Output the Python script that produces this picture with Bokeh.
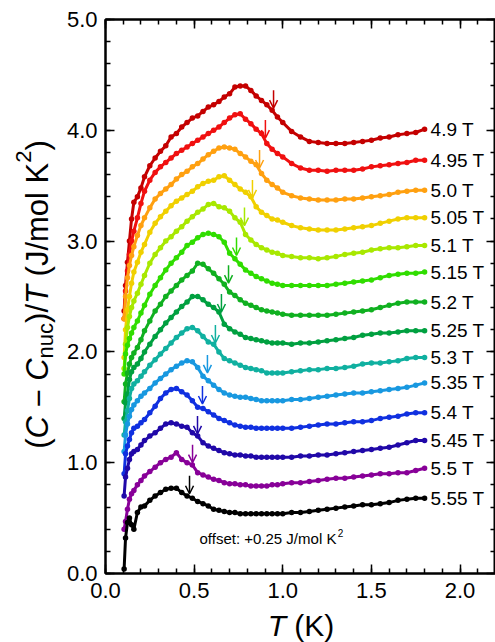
import math
from bokeh.plotting import figure
from bokeh.layouts import row, column
from bokeh.models import (ColumnDataSource, Label, LinearAxis, Range1d,
                          SingleIntervalTicker, PrintfTickFormatter,
                          CustomJSTickFormatter, Arrow, OpenHead)
from bokeh.core.properties import value
from bokeh.embed import file_html
from bokeh.resources import INLINE

# ---------------- data ----------------
T = [0.105, 0.113, 0.124, 0.135, 0.147, 0.16, 0.18, 0.20, 0.22, 0.25,
     0.28, 0.31, 0.34, 0.37, 0.40, 0.43, 0.46, 0.49, 0.52, 0.55,
     0.58, 0.61, 0.64, 0.67, 0.70, 0.73, 0.76, 0.79, 0.82, 0.85,
     0.88, 0.91, 0.94, 0.97, 1.00, 1.05, 1.10, 1.15, 1.20, 1.25,
     1.30, 1.35, 1.40, 1.45, 1.50, 1.55, 1.60, 1.65, 1.70, 1.75,
     1.80]

FIELDS = ["4.9 T", "4.95 T", "5.0 T", "5.05 T", "5.1 T", "5.15 T", "5.2 T",
          "5.25 T", "5.3 T", "5.35 T", "5.4 T", "5.45 T", "5.5 T", "5.55 T"]

C_4p90 = [-0.88, -0.65, -0.44, -0.25, -0.05, 0.10, 0.15, 0.23, 0.33, 0.43,
          0.50, 0.56, 0.61, 0.69, 0.72, 0.78, 0.82, 0.86, 0.88, 0.92,
          0.96, 0.98, 1.01, 1.05, 1.08, 1.14, 1.15, 1.15, 1.11, 1.06,
          1.02, 0.98, 0.93, 0.87, 0.82, 0.74, 0.69, 0.65, 0.64, 0.63,
          0.63, 0.63, 0.64, 0.65, 0.66, 0.68, 0.69, 0.71, 0.72, 0.73,
          0.76]
C_4p95 = [-0.70, -0.45, -0.27, -0.12, 0.00, 0.09, 0.21, 0.34, 0.45, 0.55,
          0.62, 0.67, 0.71, 0.75, 0.79, 0.82, 0.85, 0.88, 0.91, 0.94,
          0.97, 1.00, 1.03, 1.07, 1.11, 1.14, 1.15, 1.10, 1.06, 1.01,
          0.97, 0.88, 0.83, 0.79, 0.76, 0.70, 0.66, 0.64, 0.64, 0.63,
          0.64, 0.64, 0.64, 0.65, 0.67, 0.68, 0.69, 0.70, 0.71, 0.73,
          0.73]
C_5p00 = [-0.45, -0.25, -0.08, 0.03, 0.12, 0.20, 0.30, 0.39, 0.46, 0.55,
          0.63, 0.68, 0.72, 0.76, 0.81, 0.85, 0.88, 0.92, 0.95, 0.99,
          1.03, 1.06, 1.09, 1.10, 1.09, 1.08, 1.04, 1.01, 0.97, 0.94,
          0.86, 0.80, 0.76, 0.73, 0.69, 0.66, 0.64, 0.63, 0.62, 0.62,
          0.62, 0.63, 0.63, 0.64, 0.65, 0.66, 0.67, 0.69, 0.70, 0.71,
          0.71]
C_5p05 = [-0.55, -0.30, -0.12, 0.00, 0.12, 0.22, 0.31, 0.40, 0.47, 0.58,
          0.66, 0.72, 0.77, 0.82, 0.86, 0.89, 0.92, 0.95, 0.99, 1.02,
          1.04, 1.05, 1.08, 1.09, 1.05, 1.01, 0.97, 0.94, 0.90, 0.81,
          0.76, 0.73, 0.70, 0.69, 0.67, 0.64, 0.62, 0.61, 0.60, 0.60,
          0.60, 0.61, 0.62, 0.63, 0.64, 0.66, 0.68, 0.70, 0.71, 0.71,
          0.71]
C_5p10 = [-0.40, -0.18, -0.03, 0.07, 0.15, 0.21, 0.28, 0.36, 0.44, 0.55,
          0.63, 0.69, 0.75, 0.79, 0.84, 0.88, 0.93, 0.97, 1.01, 1.04,
          1.08, 1.09, 1.06, 1.05, 1.02, 0.96, 0.92, 0.81, 0.76, 0.72,
          0.69, 0.67, 0.65, 0.64, 0.62, 0.61, 0.60, 0.60, 0.59, 0.60,
          0.61, 0.63, 0.64, 0.65, 0.67, 0.68, 0.69, 0.69, 0.70, 0.71,
          0.71]
C_5p15 = [-0.20, -0.02, 0.06, 0.12, 0.17, 0.22, 0.28, 0.35, 0.42, 0.52,
          0.60, 0.67, 0.74, 0.80, 0.85, 0.90, 0.96, 0.99, 1.03, 1.06,
          1.07, 1.06, 1.04, 0.99, 0.89, 0.84, 0.79, 0.74, 0.71, 0.68,
          0.66, 0.64, 0.62, 0.61, 0.60, 0.60, 0.60, 0.60, 0.60, 0.60,
          0.61, 0.62, 0.63, 0.64, 0.65, 0.67, 0.69, 0.70, 0.71, 0.71,
          0.72]
C_5p20 = [-0.20, -0.04, 0.06, 0.14, 0.20, 0.24, 0.29, 0.36, 0.44, 0.53,
          0.62, 0.68, 0.75, 0.80, 0.85, 0.90, 0.94, 0.98, 1.05, 1.04,
          1.00, 0.96, 0.91, 0.86, 0.79, 0.76, 0.72, 0.69, 0.67, 0.65,
          0.63, 0.62, 0.61, 0.60, 0.59, 0.58, 0.58, 0.58, 0.58, 0.58,
          0.59, 0.60, 0.61, 0.62, 0.63, 0.65, 0.67, 0.69, 0.70, 0.70,
          0.70]
C_5p25 = [-0.10, 0.04, 0.12, 0.25, 0.32, 0.36, 0.39, 0.44, 0.50, 0.57,
          0.64, 0.70, 0.76, 0.81, 0.86, 0.91, 0.95, 1.00, 1.00, 0.97,
          0.93, 0.90, 0.86, 0.75, 0.71, 0.68, 0.66, 0.63, 0.62, 0.61,
          0.60, 0.59, 0.58, 0.58, 0.58, 0.57, 0.58, 0.58, 0.59, 0.60,
          0.61, 0.62, 0.63, 0.65, 0.66, 0.67, 0.67, 0.68, 0.69, 0.69,
          0.69]
C_5p30 = [0.00, 0.12, 0.22, 0.33, 0.42, 0.46, 0.49, 0.53, 0.57, 0.63,
          0.68, 0.73, 0.78, 0.83, 0.88, 0.92, 0.96, 0.97, 0.94, 0.89,
          0.84, 0.82, 0.75, 0.69, 0.67, 0.65, 0.63, 0.61, 0.60, 0.59,
          0.58, 0.56, 0.56, 0.56, 0.56, 0.57, 0.58, 0.59, 0.59, 0.60,
          0.60, 0.61, 0.62, 0.64, 0.65, 0.65, 0.66, 0.67, 0.69, 0.70,
          0.70]
C_5p35 = [0.10, 0.25, 0.35, 0.42, 0.48, 0.52, 0.56, 0.60, 0.63, 0.67,
          0.72, 0.76, 0.80, 0.84, 0.87, 0.90, 0.92, 0.91, 0.86, 0.78,
          0.74, 0.70, 0.66, 0.63, 0.61, 0.60, 0.59, 0.59, 0.58, 0.57,
          0.56, 0.56, 0.56, 0.56, 0.56, 0.57, 0.57, 0.58, 0.59, 0.60,
          0.61, 0.62, 0.63, 0.63, 0.64, 0.65, 0.66, 0.67, 0.68, 0.70,
          0.72]
C_5p40 = [0.15, 0.33, 0.40, 0.46, 0.52, 0.56, 0.58, 0.61, 0.64, 0.70,
          0.76, 0.83, 0.88, 0.91, 0.92, 0.89, 0.86, 0.81, 0.75, 0.74,
          0.71, 0.68, 0.65, 0.63, 0.61, 0.59, 0.58, 0.57, 0.57, 0.56,
          0.56, 0.56, 0.56, 0.56, 0.56, 0.56, 0.57, 0.58, 0.59, 0.60,
          0.60, 0.61, 0.62, 0.62, 0.63, 0.65, 0.66, 0.67, 0.69, 0.70,
          0.70]
C_5p45 = [0.20, 0.37, 0.45, 0.53, 0.58, 0.60, 0.62, 0.66, 0.70, 0.74,
          0.77, 0.81, 0.85, 0.86, 0.85, 0.83, 0.82, 0.77, 0.74, 0.68,
          0.65, 0.63, 0.61, 0.59, 0.58, 0.57, 0.57, 0.56, 0.56, 0.55,
          0.55, 0.55, 0.55, 0.55, 0.55, 0.55, 0.56, 0.56, 0.57, 0.57,
          0.58, 0.59, 0.60, 0.61, 0.62, 0.63, 0.64, 0.66, 0.68, 0.70,
          0.70]
C_5p50 = [0.15, 0.22, 0.33, 0.42, 0.47, 0.50, 0.55, 0.59, 0.63, 0.67,
          0.71, 0.75, 0.78, 0.80, 0.84, 0.78, 0.75, 0.73, 0.66, 0.64,
          0.62, 0.60, 0.59, 0.57, 0.56, 0.56, 0.55, 0.55, 0.54, 0.54,
          0.54, 0.54, 0.55, 0.55, 0.56, 0.57, 0.57, 0.58, 0.59, 0.60,
          0.61, 0.61, 0.62, 0.63, 0.64, 0.65, 0.65, 0.66, 0.66, 0.68,
          0.70]
C_5p55 = [0.04, 0.32, 0.46, 0.50, 0.44, 0.40, 0.55, 0.60, 0.61, 0.66,
          0.70, 0.73, 0.76, 0.77, 0.77, 0.73, 0.70, 0.68, 0.65, 0.63,
          0.61, 0.58, 0.57, 0.56, 0.55, 0.55, 0.54, 0.54, 0.54, 0.54,
          0.54, 0.54, 0.54, 0.54, 0.54, 0.55, 0.55, 0.56, 0.57, 0.58,
          0.59, 0.60, 0.61, 0.62, 0.62, 0.63, 0.64, 0.66, 0.67, 0.68,
          0.68]

CURVES = [C_4p90, C_4p95, C_5p00, C_5p05, C_5p10, C_5p15, C_5p20,
          C_5p25, C_5p30, C_5p35, C_5p40, C_5p45, C_5p50, C_5p55]

# transition markers (arrows): temperature and value of the tip (no offset)
ARROW_T = [0.948, 0.902, 0.869, 0.829, 0.784, 0.739, 0.694,
           0.654, 0.620, 0.575, 0.547, 0.519, 0.491, 0.474]
ARROW_C = [0.95, 0.93, 0.91, 0.89, 0.89, 0.87, 0.87,
           0.86, 0.83, 0.81, 0.78, 0.76, 0.75, 0.72]

OFFSET = 0.25

COLORS = ["#c40000", "#f01010", "#ffa010", "#f0d000", "#a8e800", "#30dd00",
          "#10b020", "#00a040", "#10b0a0", "#1898e0", "#1030e0", "#2008a8",
          "#880098", "#000000"]

# ---------------- layout ----------------
FONT = "Liberation Sans"
XMAX, YMAX = 2.2, 5.0
PAGE_W, PAGE_H = 495, 642
YLAB_W = 60                      # strip holding the y-axis title
MAIN_W, MAIN_H = PAGE_W - YLAB_W, 610
XLAB_H = PAGE_H - MAIN_H         # strip holding the x-axis title
B_L, B_R, B_T, B_B = 45, 0, 19, 37
FW = MAIN_W - B_L - B_R
FH = MAIN_H - B_T - B_B
DX = XMAX / FW
DY = YMAX / FH
FRAME_LEFT = YLAB_W + B_L        # page x of the frame's left edge
FRAME_BOTTOM = B_T + FH          # page y of the frame's bottom edge
MID = 0.35                       # baseline -> visual middle, in em

WID = {"(": 333, ")": 333, "C": 722, " ": 278, "\u2212": 584, "n": 556,
       "u": 556, "c": 500, "/": 278, "T": 611, "J": 500, "m": 833, "o": 556,
       "l": 222, "K": 667, "2": 556, "f": 278, "s": 500, "e": 556, "t": 278,
       ":": 278, "+": 584, "0": 556, ".": 278, "5": 556}


def tw(s, size):
    return sum(WID.get(ch, 556) for ch in s) * size / 1000.0


p = figure(width=MAIN_W, height=MAIN_H, title=None,
           x_range=Range1d(0, XMAX), y_range=Range1d(0, YMAX),
           output_backend="svg", toolbar_location=None,
           min_border_left=B_L, min_border_right=B_R,
           min_border_top=B_T, min_border_bottom=B_B)
p.grid.visible = False
p.outline_line_color = "black"
p.outline_line_width = 2

xt = SingleIntervalTicker(interval=0.5, num_minor_ticks=5)
yt = SingleIntervalTicker(interval=1.0, num_minor_ticks=5)


def style(ax, ticker, labels):
    ax.ticker = ticker
    ax.axis_line_color = "black"
    ax.axis_line_width = 2
    ax.major_tick_line_color = "black"
    ax.major_tick_line_width = 1.5
    ax.minor_tick_line_color = "black"
    ax.minor_tick_line_width = 1.5
    ax.major_tick_in = 9
    ax.major_tick_out = 0
    ax.minor_tick_in = 5
    ax.minor_tick_out = 0
    if labels:
        ax.formatter = PrintfTickFormatter(format="%.1f")
        ax.major_label_text_font = FONT
        ax.major_label_text_font_size = "22px"
        ax.major_label_text_color = "black"
        ax.major_label_standoff = 8
    else:
        ax.formatter = CustomJSTickFormatter(code="return ''")
        ax.major_label_text_font_size = "0px"
        ax.major_label_standoff = 0


style(p.xaxis[0], xt, True)
p.xaxis[0].major_label_standoff = 9
style(p.yaxis[0], yt, True)
top_ax = LinearAxis()
style(top_ax, xt, False)
p.add_layout(top_ax, "above")
right_ax = LinearAxis()
style(right_ax, yt, False)
p.add_layout(right_ax, "right")

ARROW_LEN = 18 * DY
n = len(FIELDS)
lab_x, lab_y = [], []
for i, (vals, col) in enumerate(zip(CURVES, COLORS)):
    off = OFFSET * (n - 1 - i)
    src = ColumnDataSource(dict(T=T, C=[v + off for v in vals]))
    p.line("T", "C", source=src, line_color=col, line_width=3)
    p.scatter("T", "C", source=src, size=5.5, fill_color=col,
              line_color=col, line_width=0)
    p.add_layout(Arrow(end=OpenHead(size=8, line_color=col, line_width=1.5),
                       x_start=ARROW_T[i], y_start=ARROW_C[i] + off + ARROW_LEN,
                       x_end=ARROW_T[i], y_end=ARROW_C[i] + off,
                       line_color=col, line_width=1.5))
    lab_x.append(T[-1] + 6 * DX)
    lab_y.append(vals[-1] + off)

p.text(x=lab_x, y=lab_y, text=FIELDS, text_font=value(FONT),
       text_font_size="19px", text_baseline="middle", text_align="left",
       text_color="black")

# offset note (inside the frame); positions given as page pixels of baseline
OS = 15
otext = "offset: +0.25 J/mol K"
ox = 199 - FRAME_LEFT
oy = FRAME_BOTTOM - 543 + MID * OS
p.add_layout(Label(x=ox * DX, y=oy * DY, text=otext, text_align="left",
                   text_baseline="middle", text_font=FONT,
                   text_font_size=f"{OS}px", text_color="black"))
p.add_layout(Label(x=(ox + tw(otext, OS) + 1) * DX,
                   y=(FRAME_BOTTOM - 536 + MID * 10) * DY, text="2",
                   text_align="left", text_baseline="middle",
                   text_font=FONT, text_font_size="10px", text_color="black"))


def blank(w, h, x_range=None):
    f = figure(width=w, height=h, title=None,
               x_range=x_range if x_range is not None else Range1d(0, w),
               y_range=Range1d(0, h),
               output_backend="svg", toolbar_location=None,
               x_axis_location=None, y_axis_location=None, min_border=0)
    f.grid.visible = False
    f.outline_line_color = None
    return f


# y axis title strip (pixel coordinates, y upward)
ylab = blank(YLAB_W, PAGE_H)
YS, YSUB = 31, 22
ypieces = [("(", "normal", YS, 48), ("C", "italic", YS, 48), (" ", None, YS, 48),
           ("\u2212", "normal", YS, 48), (" ", None, YS, 48),
           ("C", "italic", YS, 48), ("nuc", "normal", YSUB, 53),
           (")/", "normal", YS, 48), ("T", "italic", YS, 48), (" ", None, YS, 48),
           ("(J/mol K", "normal", YS, 48), ("2", "normal", YSUB, 31),
           (")", "normal", YS, 48)]
total = sum(tw(t, s) for t, _, s, _ in ypieces)
pos = (PAGE_H - 294) - total / 2
for t, st, s, bx in ypieces:
    if st is not None:
        ylab.add_layout(Label(x=bx - MID * s, y=pos, text=t,
                              angle=math.pi / 2, text_align="left",
                              text_baseline="middle", text_font=FONT,
                              text_font_style=st, text_font_size=f"{s}px",
                              text_color="black"))
    pos += tw(t, s)

# x axis title strip (frame aligned with the main plot, shares its x range)
xlab = blank(MAIN_W, XLAB_H, x_range=p.x_range)
XS = 30
xstart = 300.5 - FRAME_LEFT - tw("T (K)", XS) / 2
xmid = PAGE_H - 635 + MID * XS
xlab.add_layout(Label(x=xstart * DX, y=xmid, text="T", text_align="left",
                      text_baseline="middle", text_font=FONT,
                      text_font_style="italic", text_font_size=f"{XS}px",
                      text_color="black"))
xlab.add_layout(Label(x=(xstart + tw("T ", XS)) * DX, y=xmid, text="(K)",
                      text_align="left", text_baseline="middle",
                      text_font=FONT, text_font_size=f"{XS}px",
                      text_color="black"))

layout = row(ylab, column(p, xlab))
open("out.html", "w").write(file_html(layout, INLINE, title="heat capacity"))
